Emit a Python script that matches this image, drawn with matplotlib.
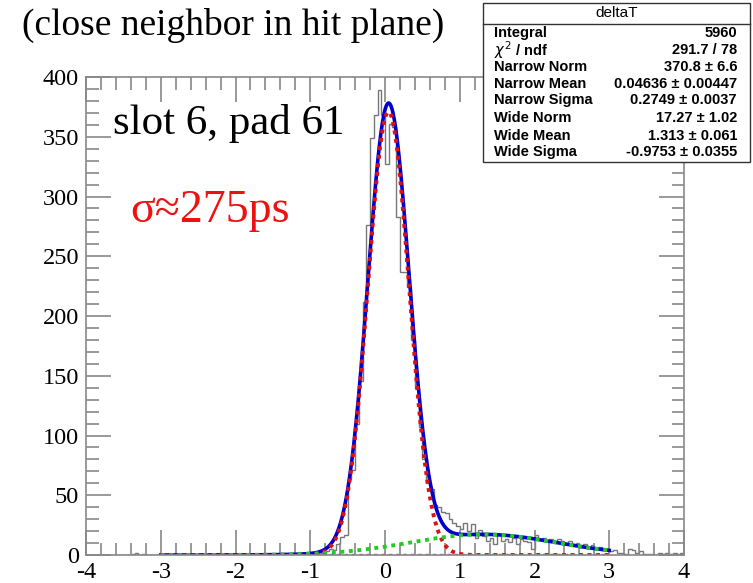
import numpy as np
import matplotlib
matplotlib.use('Agg')
import matplotlib.pyplot as plt
from matplotlib.ticker import MultipleLocator
from matplotlib.patches import Rectangle

plt.rcParams['axes.unicode_minus'] = False

# histogram: 160 bins of 0.05 from -4 to 4
bin_edges = np.linspace(-4.0, 4.0, 161)
counts_m4 = [0, 0, 0, 0, 0, 0, 0, 0, 0, 0, 0, 0, 1, 2, 0, 1, 0, 0, 0, 0]
counts_m3 = [0, 0, 0, 0, 0, 0, 0, 0, 0, 0, 0, 1, 0, 0, 0, 1, 0, 0, 0, 0]
counts_m2 = [0, 0, 0, 0, 0, 0, 1, 0, 0, 0, 0, 0, 0, 0, 1, 0, 0, 0, 0, 1]
counts_m1 = [1, 0, 1, 2, 3, 5, 4, 9, 15, 17, 64, 71, 110, 146, 212, 276, 349, 368, 389, 368]
counts_p0 = [327, 361, 358, 283, 237, 237, 224, 180, 140, 107, 80, 60, 55, 42, 40, 36, 35, 30, 27, 24]
counts_p1 = [22, 27, 20, 26, 14, 21, 16, 12, 14, 9, 17, 12, 13, 11, 14, 9, 13, 12, 11, 5]
counts_p2 = [17, 13, 14, 12, 13, 11, 13, 12, 10, 12, 9, 10, 7, 9, 6, 8, 6, 7, 4, 5]
counts_p3 = [3, 4, 2, 2, 1, 5, 4, 2, 3, 1, 1, 1, 0, 2, 1, 2, 1, 2, 1, 2]
counts = counts_m4 + counts_m3 + counts_m2 + counts_m1 + counts_p0 + counts_p1 + counts_p2 + counts_p3

# fit parameters from the stats box
narrow_norm, narrow_mean, narrow_sigma = 370.8, 0.04636, 0.2749
wide_norm, wide_mean, wide_sigma = 17.27, 1.313, -0.9753
fit_range = (-3.0, 3.0)
bkg_level = 0.0

stats_rows = [
    ('Integral', '5960'),
    (r'$\chi^{2}$ / ndf', '291.7 / 78'),
    ('Narrow Norm', '370.8 ± 6.6'),
    ('Narrow Mean', '0.04636 ± 0.00447'),
    ('Narrow Sigma', '0.2749 ± 0.0037'),
    ('Wide Norm', '17.27 ± 1.02'),
    ('Wide Mean', '1.313 ± 0.061'),
    ('Wide Sigma', '-0.9753 ± 0.0355'),
]

def gaus(x, n, m, s):
    return n * np.exp(-0.5 * ((x - m) / s) ** 2)

fig = plt.figure(figsize=(7.53, 5.83), dpi=100)
ax = fig.add_axes([86 / 753, 28 / 583, 598 / 753, 478 / 583])

ax.stairs(counts, bin_edges, color='#777777', lw=1.0)

xf = np.linspace(fit_range[0], fit_range[1], 600)
narrow = gaus(xf, narrow_norm, narrow_mean, narrow_sigma)
wide = gaus(xf, wide_norm, wide_mean, wide_sigma)
dots = (0, (1, 1.2))
# total fit first, components dotted on top (as ROOT draws them)
ax.plot(xf, narrow + wide + bkg_level, color='#0000cc', lw=2.6)
ax.plot(xf, narrow, color='#dd1111', lw=2.8, ls=dots)
ax.plot(xf, wide, color='#22cc22', lw=2.8, ls=dots)
ax.plot(xf, np.full_like(xf, bkg_level), color='#9933aa', lw=2.4, ls=dots)

ax.set_xlim(-4, 4)
ax.set_ylim(0, 400)
ax.xaxis.set_major_locator(MultipleLocator(1))
ax.xaxis.set_minor_locator(MultipleLocator(0.2))
ax.yaxis.set_major_locator(MultipleLocator(50))
ax.yaxis.set_minor_locator(MultipleLocator(10))
ax.tick_params(which='both', direction='in', top=True, right=True, color='#888888', width=1.2)
ax.tick_params(which='major', length=18, labelsize=17.5)
ax.tick_params(axis='x', which='major', pad=5)
ax.tick_params(axis='y', which='major', pad=5)
ax.tick_params(which='minor', length=9)
for lab in ax.get_xticklabels() + ax.get_yticklabels():
    lab.set_family('Liberation Serif')
for sp in ax.spines.values():
    sp.set_color('#888888')
    sp.set_linewidth(1.2)

fig.text(22 / 753, 1 - 25 / 583, '(close neighbor in hit plane)', family='Liberation Serif',
         fontsize=27, va='center', ha='left')
ax.text(113 / 753, 1 - 124 / 583, 'slot 6, pad 61', transform=fig.transFigure,
        family='Liberation Serif', fontsize=31, va='center', ha='left')
ax.text(130 / 753, 1 - 211 / 583, 'σ≈275ps', transform=fig.transFigure,
        family='Liberation Serif', fontsize=33, color='#ee1111', va='center', ha='left')

# stats box
bx0, bx1, by0, by1 = 483, 750, 3, 162
fig.patches.append(Rectangle((bx0 / 753, 1 - by1 / 583), (bx1 - bx0) / 753, (by1 - by0) / 583,
                             transform=fig.transFigure, facecolor='white', edgecolor='#333333',
                             lw=1.0, zorder=5))
fig.lines.append(plt.Line2D([bx0 / 753, bx1 / 753], [1 - 24 / 583, 1 - 24 / 583],
                            transform=fig.transFigure, color='#333333', lw=1.0, zorder=6))
fig.text((bx0 + bx1) / 2 / 753, 1 - 13 / 583, 'deltaT', ha='center', va='center',
         family='Liberation Sans', fontsize=11, zorder=7)
row_y = [33, 50, 67, 84, 100, 118, 136, 152]
for (name, val), yy in zip(stats_rows, row_y):
    fig.text(494 / 753, 1 - yy / 583, name, ha='left', va='center', family='Liberation Sans',
             fontsize=10.5, fontweight='bold', zorder=7)
    fig.text(737 / 753, 1 - yy / 583, val, ha='right', va='center', family='Liberation Sans',
             fontsize=10.5, fontweight='bold', zorder=7)

fig.savefig('out.png', dpi=100)
